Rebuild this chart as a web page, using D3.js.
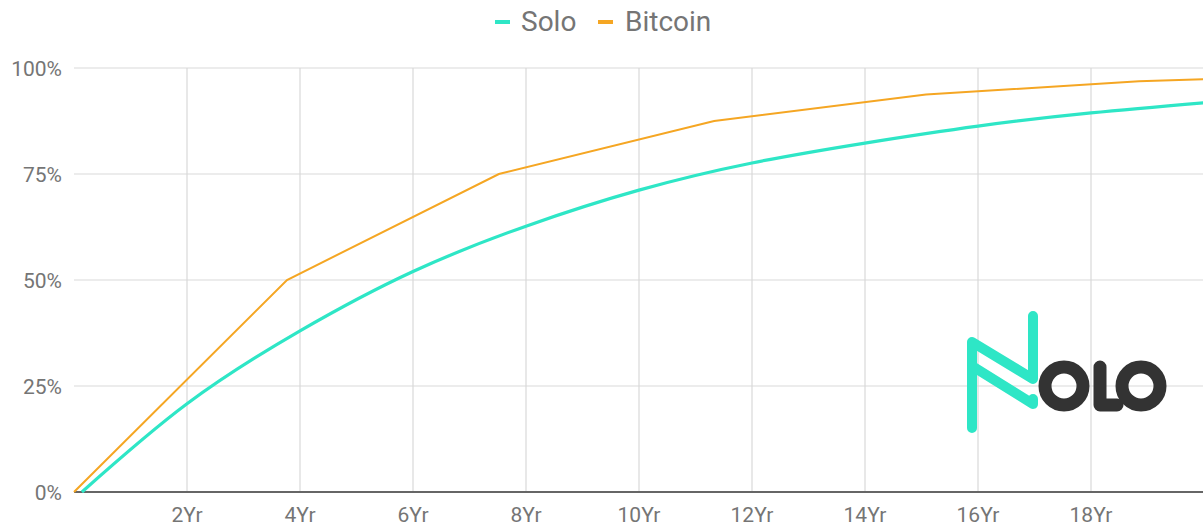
<!DOCTYPE html>
<html><head><meta charset="utf-8">
<script src="https://cdn.jsdelivr.net/npm/d3@7"></script>
<style>body{margin:0;background:#fff}svg{display:block}</style>
</head><body>
<svg id="c" width="1203" height="527"></svg>
<script>
const soloYears = [0.14, 2, 4, 6, 8, 10, 12, 14, 16, 18, 20];
const soloValues = [0, 20.8, 38.0, 52.0, 62.7, 71.2, 77.6, 82.3, 86.3, 89.4, 91.8];
const btcYears = [0, 3.77, 7.52, 11.33, 15.08, 18.85, 20];
const btcValues = [0, 50, 75, 87.5, 93.75, 96.875, 97.35];
const xTicks = [2, 4, 6, 8, 10, 12, 14, 16, 18];
const xTickLabels = ["2Yr", "4Yr", "6Yr", "8Yr", "10Yr", "12Yr", "14Yr", "16Yr", "18Yr"];
const yTicks = [0, 25, 50, 75, 100];
const yTickLabels = ["0%", "25%", "50%", "75%", "100%"];
const seriesNames = ["Solo", "Bitcoin"];
const seriesColors = ["#2ee6c6", "#f5a623"];

const svg = d3.select("#c");
const x = d3.scaleLinear().domain([0, 20]).range([74, 1204]);
const y = d3.scaleLinear().domain([0, 100]).range([492, 68]);
const font = "Roboto, 'Noto Sans', sans-serif";

// gridlines
svg.append("g").selectAll("line").data(yTicks.filter(d => d > 0)).join("line")
  .attr("x1", x(0)).attr("x2", 1203).attr("y1", d => y(d)).attr("y2", d => y(d))
  .attr("stroke", "#d9d9d9").attr("stroke-width", 1.2);
svg.append("g").selectAll("line").data(xTicks).join("line")
  .attr("x1", d => x(d)).attr("x2", d => x(d)).attr("y1", y(100)).attr("y2", y(0))
  .attr("stroke", "#d9d9d9").attr("stroke-width", 1.2);

// y labels
svg.append("g").selectAll("text").data(yTicks).join("text")
  .attr("x", 62).attr("y", d => y(d)).attr("dy", "0.36em")
  .attr("text-anchor", "end").attr("font-family", font).attr("font-size", 21)
  .attr("fill", "#757575").text((d, i) => yTickLabels[i]);
// x labels
svg.append("g").selectAll("text").data(xTicks).join("text")
  .attr("x", d => x(d)).attr("y", 514).attr("dy", "0.36em")
  .attr("text-anchor", "middle").attr("font-family", font).attr("font-size", 21)
  .attr("fill", "#757575").text((d, i) => xTickLabels[i]);

// logo
const logo = svg.append("g").attr("fill", "none").attr("stroke-linecap", "round").attr("stroke-linejoin", "round");
logo.append("path").attr("d", "M972,428 L972,342 L1033,379 L1033,316")
  .attr("stroke", "#2ee6c6").attr("stroke-width", 10);
logo.append("path").attr("d", "M972,366 L1033,404 L1033,399")
  .attr("stroke", "#2ee6c6").attr("stroke-width", 10);
logo.append("circle").attr("cx", 1064).attr("cy", 386).attr("r", 19)
  .attr("stroke", "#333333").attr("stroke-width", 13);
logo.append("path").attr("d", "M1100,367 L1100,405 L1117,405")
  .attr("stroke", "#333333").attr("stroke-width", 13);
logo.append("circle").attr("cx", 1141).attr("cy", 386).attr("r", 19)
  .attr("stroke", "#333333").attr("stroke-width", 13);

// baseline
svg.append("line").attr("x1", x(0)).attr("x2", 1203).attr("y1", y(0)).attr("y2", y(0))
  .attr("stroke", "#666").attr("stroke-width", 2);

// lines
const line = d3.line().x(d => x(d[0])).y(d => y(d[1]));
const soloLine = d3.line().x(d => x(d[0])).y(d => y(d[1])).curve(d3.curveNatural);
svg.append("path").datum(btcYears.map((v, i) => [v, btcValues[i]]))
  .attr("d", line).attr("fill", "none").attr("stroke", seriesColors[1]).attr("stroke-width", 2);
svg.append("path").datum(soloYears.map((v, i) => [v, soloValues[i]]))
  .attr("d", soloLine).attr("fill", "none").attr("stroke", seriesColors[0]).attr("stroke-width", 3.2);

// legend
const leg = svg.append("g");
const legItems = [{dx: 495, tx: 521}, {dx: 598, tx: 625}];
seriesNames.forEach((n, i) => {
  leg.append("line").attr("x1", legItems[i].dx).attr("x2", legItems[i].dx + 15)
    .attr("y1", 22).attr("y2", 22).attr("stroke", seriesColors[i]).attr("stroke-width", 4);
  leg.append("text").attr("x", legItems[i].tx).attr("y", 31)
    .attr("font-family", font).attr("font-size", 28).attr("fill", "#757575").text(n);
});
</script>
</body></html>
